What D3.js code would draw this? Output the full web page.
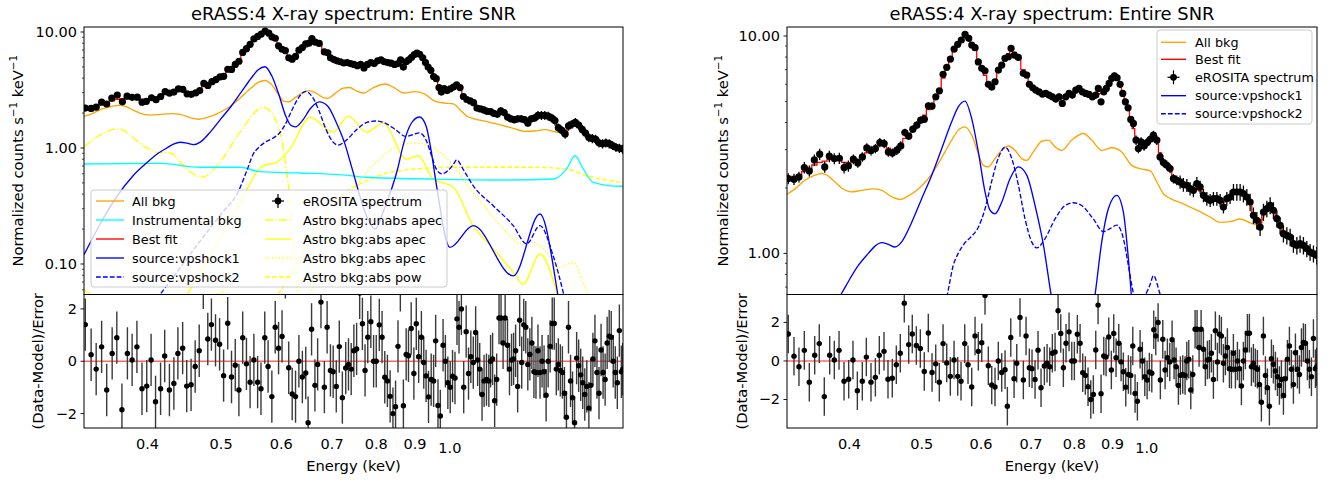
<!DOCTYPE html>
<html>
<head>
<meta charset="utf-8">
<script src="https://cdn.jsdelivr.net/npm/d3@7"></script>
<style>
  html,body{margin:0;padding:0;background:#fff;}
  svg{display:block;}
  text{font-family:"DejaVu Sans",sans-serif;fill:#000;}
</style>
</head>
<body>
<svg id="fig" width="1330" height="482"></svg>
<script>
// ---- eROSITA spectrum (bin centre keV, normalized counts s^-1 keV^-1, 1-sigma error) ----
const specE = [0.3313,0.3372,0.3424,0.3481,0.3535,0.3590,0.3650,0.3707,0.3760,0.3818,
0.3878,0.3935,0.3987,0.4049,0.4105,0.4163,0.4220,0.4276,0.4333,0.4393,
0.4452,0.4510,0.4567,0.4629,0.4686,0.4745,0.4803,0.4863,0.4923,0.4983,
0.5039,0.5102,0.5160,0.5220,0.5278,0.5338,0.5399,0.5460,0.5523,0.5585,
0.5647,0.5713,0.5778,0.5832,0.5892,0.5951,0.6014,0.6075,0.6138,0.6202,
0.6265,0.6330,0.6396,0.6461,0.6527,0.6583,0.6650,0.6731,0.6836,0.6909,
0.6965,0.7038,0.7103,0.7175,0.7250,0.7325,0.7400,0.7477,0.7555,0.7632,
0.7709,0.7791,0.7871,0.7951,0.8036,0.8117,0.8200,0.8287,0.8371,0.8457,
0.8547,0.8614,0.8686,0.8760,0.8829,0.8905,0.8979,0.9052,0.9127,0.9212,
0.9288,0.9363,0.9441,0.9520,0.9597,0.9677,0.9746,0.9827,0.9918,1.0010,
1.0110,1.0208,1.0315,1.0419,1.0526,1.0638,1.0746,1.0856,1.0971,1.1083,
1.1196,1.1315,1.1430,1.1547,1.1670,1.1789,1.1909,1.2035,1.2158,1.2282,
1.2413,1.2539,1.2667,1.2799,1.2929,1.3064,1.3200,1.3335,1.3471,1.3614,
1.3752,1.3892,1.4040,1.4183,1.4328,1.4480,1.4628,1.4777,1.4934,1.5084,
1.5238,1.5400,1.5557,1.5715,1.5883,1.6041,1.6208,1.6377,1.6544,1.6716,
1.6890];
const specRate = [2.209,2.193,2.247,2.483,2.395,2.692,2.859,2.499,2.799,2.732,
2.74,2.483,2.525,2.712,2.607,2.778,3.057,2.974,3.037,3.237,
3.203,2.930,2.899,2.984,3.123,3.599,3.461,3.727,3.889,4.101,
4.145,4.773,4.758,5.253,5.597,6.662,7.174,7.834,8.711,9.158,
9.585,10.18,9.759,9.090,8.834,7.6,7.098,6.920,5.991,5.821,
6.158,6.972,7.352,7.892,8.027,8.776,8.173,7.976,6.733,6.612,
5.991,5.778,5.639,5.538,5.404,5.444,5.347,5.253,5.126,5.253,
4.896,5.253,5.444,5.347,5.639,5.741,5.538,5.444,5.387,5.253,
5.347,5.741,4.980,5.538,5.741,6.053,6.384,6.563,6.425,5.991,
5.444,4.980,4.673,4.132,3.960,3.318,3.037,3.258,3.123,3.237,
3.35,3.498,3.318,2.778,2.618,2.544,2.457,2.209,2.170,2.131,
2.073,2.058,1.987,1.951,2.095,2.021,1.850,1.787,1.755,1.787,
1.787,1.755,1.634,1.787,1.817,1.916,1.916,1.916,1.884,1.817,
1.723,1.497,1.419,1.322,1.550,1.607,1.664,1.579,1.445,1.346,
1.232,1.210,1.189,1.108,1.089,1.108,1.089,1.051,1.014,0.997,
0.979];
const specErr = [0.13,0.13,0.13,0.15,0.14,0.16,0.17,0.15,0.17,0.16,
0.16,0.15,0.15,0.14,0.13,0.14,0.15,0.15,0.15,0.16,
0.16,0.15,0.14,0.15,0.16,0.15,0.14,0.15,0.16,0.16,
0.17,0.19,0.19,0.16,0.17,0.20,0.22,0.24,0.26,0.27,
0.29,0.31,0.29,0.27,0.27,0.23,0.21,0.21,0.18,0.17,
0.18,0.21,0.22,0.24,0.24,0.26,0.25,0.24,0.20,0.20,
0.18,0.17,0.17,0.17,0.16,0.19,0.19,0.18,0.18,0.18,
0.17,0.18,0.19,0.19,0.20,0.20,0.19,0.19,0.19,0.18,
0.19,0.20,0.17,0.19,0.20,0.21,0.22,0.23,0.22,0.21,
0.19,0.17,0.16,0.14,0.20,0.17,0.15,0.16,0.16,0.16,
0.17,0.17,0.17,0.14,0.13,0.13,0.12,0.11,0.11,0.15,
0.15,0.14,0.14,0.14,0.15,0.14,0.13,0.13,0.12,0.13,
0.13,0.12,0.11,0.13,0.13,0.17,0.17,0.17,0.17,0.16,
0.16,0.13,0.13,0.12,0.14,0.14,0.15,0.14,0.13,0.12,
0.11,0.11,0.11,0.10,0.10,0.10,0.10,0.09,0.09,0.09,
0.09];
// best-fit folded model, one value per spectral bin
const fitRate = [2.22,2.26,2.30,2.38,2.45,2.55,2.62,2.66,2.70,2.70,2.68,2.62,2.60,
2.64,2.70,2.80,2.90,2.98,3.05,3.12,3.12,3.05,2.98,3.00,3.12,
3.38,3.50,3.68,3.88,4.10,4.32,4.58,4.85,5.20,5.70,
6.40,7.10,7.85,8.60,9.20,9.65,9.90,9.75,9.20,8.60,
7.70,7.10,6.60,6.10,5.95,6.20,6.85,
7.40,7.90,8.30,8.55,8.40,7.90,7.00,6.50,
6.05,5.80,5.62,5.50,5.42,5.38,5.32,5.25,5.20,5.15,5.15,5.22,
5.32,5.42,5.55,5.62,5.60,5.50,5.40,5.32,5.35,5.40,
5.45,5.55,5.75,6.05,6.35,6.45,6.35,6.00,5.45,4.95,4.55,
4.10,3.75,3.40,3.25,3.20,3.20,3.25,3.32,
3.38,3.25,2.90,2.68,2.55,2.42,2.28,2.18,2.12,2.08,2.04,
2.00,1.98,1.98,1.94,1.88,1.82,1.78,1.77,1.76,1.74,1.72,1.76,1.82,
1.88,1.92,1.91,1.86,1.78,1.68,1.54,1.42,1.38,
1.52,1.62,1.62,1.55,1.44,1.34,1.26,1.21,1.16,1.12,1.10,1.09,1.08,1.05,1.02,1.00,0.98];

// ---- residuals (Data-Model)/Error ----
const resE = [0.3313,0.3372,0.3424,0.3481,0.3535,0.3594,0.3645,0.3702,0.3764,0.3818,
0.3874,0.3934,0.3991,0.4044,0.4099,0.4162,0.4214,0.4275,0.4333,0.4386,
0.4450,0.4505,0.4565,0.4622,0.4679,0.4737,0.4802,0.4855,0.4916,0.4977,
0.5038,0.5101,0.5160,0.5219,0.5277,0.5338,0.5399,0.5459,0.5522,0.5585,
0.5642,0.5707,0.5765,0.5831,0.5891,0.5951,0.6014,0.6075,0.6137,0.6202,
0.6265,0.6329,0.6396,0.6462,0.6508,0.6577,0.6644,0.6699,0.6767,0.6837,
0.6894,0.6964,0.7022,0.7088,0.7153,0.7220,0.7294,0.7355,0.7416,0.7476,
0.7539,0.7609,0.7672,0.7734,0.7798,0.7871,0.7937,0.8001,0.8075,0.8143,
0.8210,0.8276,0.8345,0.8416,0.8483,0.8546,0.8607,0.8687,0.8760,0.8822,
0.8895,0.8967,0.9033,0.9098,0.9174,0.9240,0.9305,0.9374,0.9450,0.9520,
0.9579,0.9647,0.9716,0.9797,0.9866,0.9940,1.0011,1.0082,1.0157,1.0219,
1.0282,1.0356,1.0429,1.0507,1.0582,1.0657,1.0736,1.0813,1.0879,1.0947,
1.1025,1.1093,1.1174,1.1254,1.1314,1.1383,1.1454,1.1525,1.1607,1.1678,
1.1751,1.1824,1.1908,1.1981,1.2056,1.2131,1.2205,1.2281,1.2356,1.2433,
1.2510,1.2587,1.2665,1.2744,1.2822,1.2902,1.2982,1.3061,1.3143,1.3224,
1.3305,1.3388,1.3470,1.3553,1.3638,1.3721,1.3807,1.3892,1.3977,1.4064,
1.4152,1.4238,1.4327,1.4416,1.4504,1.4594,1.4685,1.4775,1.4867,1.4959,
1.5051,1.5144,1.5239,1.5332,1.5427,1.5523,1.5618,1.5715,1.5813,1.5910,
1.6009,1.6108,1.6207,1.6308,1.6407,1.6509,1.6612,1.6715,1.6817,1.6890];
const resVal = [1.4,0.25,-0.3,0.55,-1.1,0.3,0.9,-1.85,0.3,0.05,
0.55,-1.05,-0.95,0.05,-1.55,-1.05,0.2,-1.1,-0.85,0.3,
0.5,-0.95,-0.9,-0.2,0.4,3.0,0.85,1.4,0.8,0.65,
-0.55,1.45,-0.6,-0.15,-1.1,0.9,-0.1,-0.8,0.05,-0.8,
-1.05,0.9,-0.2,-1.35,1.3,0.5,0.95,3.4,-0.25,-1.25,
-1.35,0.0,-0.6,-0.45,-2.35,1.22,-0.92,-0.12,2.26,-0.99,
1.30,-0.35,-0.40,-0.96,0.56,-1.39,-0.26,-0.12,-0.30,0.40,
0.47,2.61,1.43,-0.35,0.92,1.51,0.0,0.0,1.39,0.92,
-0.61,-0.75,-1.34,-2.0,-1.74,0.57,2.90,-1.70,0.26,0.21,
1.25,-0.47,1.43,0.17,0.92,-0.05,-0.56,-1.36,-0.70,-0.75,
0.78,-1.69,-2.09,0.61,0.0,-0.82,-0.99,-0.57,-0.64,1.62,
1.30,2.0,-0.99,1.13,-0.47,0.17,-0.05,1.10,0.05,-0.30,
-1.27,-0.75,-0.70,-0.75,0.0,0.09,-1.51,-0.70,1.65,1.65,
0.70,1.65,0.61,-0.30,0.05,0.09,0.40,-0.96,1.57,-0.05,
1.39,1.30,-0.12,0.26,0.70,-0.40,-0.43,0.40,-0.43,0.0,
-0.40,-1.30,0.0,0.57,1.44,1.44,-0.30,-0.12,-0.35,-0.43,
-1.22,-2.14,1.30,-0.75,-1.39,-2.35,0.12,-0.17,-0.52,-0.82,
-1.27,-0.96,-1.79,-0.92,0.09,0.78,-0.43,-1.22,0.43,-0.43,
-0.70,0.70,0.96,0.92,0.0,-0.43,-0.82,1.17,-0.40,-0.30];
const resErr = 1;

// ---- model components (keV, normalized counts s^-1 keV^-1) ----
const bkgE = [0.33,0.3383,0.3488,0.3597,0.3673,0.3748,0.3826,0.3906,0.4027,0.4154,0.4306,0.4419,0.4557,0.4675,0.4796,0.4946,0.5101,0.5261,0.5370,0.5482,0.5594,0.5711,0.5831,0.5951,0.6043,0.6137,0.6265,0.6396,0.6528,0.6664,0.6803,0.6909,0.7051,0.7238,0.7386,0.7539,0.7697,0.7937,0.8226,0.8441,0.8705,0.8977,0.9259,0.9549,0.9848,1.0104,1.0316,1.0528,1.0747,1.1195,1.1667,1.2157,1.2537,1.2929,1.3335,1.3752,1.4040,1.4704,1.5085,1.5557,1.6043,1.6545,1.6890];
const bkgRate = [1.87,1.98,2.17,2.29,2.33,2.27,2.13,2.00,1.92,1.95,1.98,1.95,1.82,1.77,1.84,1.98,2.21,2.59,2.93,3.32,3.68,3.82,3.50,2.88,2.54,2.50,2.73,2.98,3.12,2.98,2.73,2.68,2.93,3.28,3.32,3.09,2.98,3.32,3.56,3.32,2.98,3.06,2.93,2.54,2.44,2.40,2.13,1.88,1.79,1.69,1.58,1.47,1.39,1.40,1.44,1.38,1.35,1.63,1.35,1.17,1.07,1.00,0.98];
const instE = [0.33,0.4154,0.4689,0.5294,0.5624,0.6349,0.7168,0.777,0.9508,1.164,1.3675,1.4243,1.461,1.498,1.544,1.674,1.69];
const instRate = [0.728,0.738,0.682,0.682,0.625,0.609,0.589,0.56,0.54,0.53,0.54,0.66,0.858,0.66,0.506,0.468,0.468];
const vps1E = [0.33,0.3464,0.3643,0.3832,0.3967,0.4111,0.4240,0.4328,0.4419,0.4510,0.4603,0.4699,0.4847,0.4999,0.5155,0.5317,0.5482,0.5594,0.5711,0.5831,0.5951,0.6075,0.6169,0.6265,0.6396,0.6563,0.6733,0.6909,0.7088,0.7274,0.7425,0.777,0.797,0.82,0.853,0.8705,0.8886,0.9119,0.9305,0.9450,0.9606,1.0,1.0733,1.2118,1.3137,1.39,1.42];
const vps1Rate = [0.12,0.22,0.38,0.58,0.72,0.88,1.0,1.08,1.12,1.10,1.07,1.13,1.39,1.79,2.29,3.04,4.03,4.72,5.02,4.17,2.93,1.92,1.58,1.52,1.72,2.21,2.50,2.29,1.66,1.09,0.688,0.26,0.2,0.3,0.65,1.13,1.61,1.85,1.55,0.945,0.47,0.139,0.214,0.079,0.27,0.05,0.02];
const vps2E = [0.4114,0.44,0.47,0.50,0.5266,0.5416,0.5508,0.5594,0.5711,0.5832,0.5951,0.6075,0.6202,0.6330,0.6462,0.6598,0.6733,0.6873,0.7015,0.7124,0.7310,0.7539,0.7775,0.7976,0.8185,0.8483,0.8749,0.8931,0.9119,0.9305,0.9450,0.9596,0.975,0.995,1.0104,1.0208,1.0419,1.0733,1.1405,1.2118,1.2619,1.3137,1.3675,1.4098,1.44];
const vps2Rate = [0.05,0.09,0.16,0.27,0.42,0.66,0.88,1.0,1.12,1.2,1.32,1.6,2.15,2.75,3.08,2.73,2.06,1.44,1.13,1.06,1.17,1.44,1.66,1.71,1.66,1.44,1.26,1.30,1.35,1.17,0.88,0.66,0.6,0.64,0.72,0.79,0.65,0.473,0.318,0.214,0.149,0.214,0.118,0.057,0.03];
const unabsE = [0.33,0.3661,0.395,0.4114,0.4283,0.4505,0.4715,0.4982,0.5294,0.568,0.5917,0.6067,0.616,0.625,0.635];
const unabsRate = [1.03,1.46,1.05,0.918,0.905,0.659,0.56,0.753,1.37,2.24,1.67,0.80,0.363,0.12,0.03];
const apec1E = [0.33,0.345,0.37,0.43,0.448,0.4689,0.4982,0.5266,0.568,0.5917,0.616,0.6546,0.7023,0.7349,0.777,0.8172,0.8771,0.9088,0.9508,1.0104,1.0733,1.1405,1.2118,1.2489,1.3137,1.3748,1.39,1.42];
const apec1Rate = [0.06,0.048,0.03,0.03,0.05,0.085,0.165,0.318,0.704,0.753,0.98,1.84,1.37,1.88,1.37,1.64,0.80,0.858,0.54,0.458,0.214,0.135,0.085,0.067,0.122,0.065,0.05,0.03];
const apec2E = [0.46,0.488,0.5025,0.518,0.54,0.60,0.65,0.69,0.7388,0.777,0.8172,0.8594,0.8997,0.9508,1.0104,1.052,1.118,1.1877,1.2366,1.2877,1.3408,1.396,1.4534,1.498,1.5285,1.56];
const apec2Rate = [0.03,0.052,0.058,0.052,0.035,0.03,0.05,0.13,0.388,0.617,0.858,1.05,1.10,1.01,0.704,0.49,0.298,0.188,0.149,0.154,0.126,0.094,0.103,0.069,0.05,0.03];
const powE = [0.57,0.60,0.65,0.70,0.7388,0.777,0.8172,0.8594,0.9039,1.0207,1.164,1.2877,1.4243,1.513,1.674,1.69];
const powRate = [0.04,0.06,0.15,0.32,0.443,0.52,0.597,0.637,0.659,0.682,0.682,0.682,0.659,0.577,0.506,0.50];

// ---- axis ticks ----
const xTickMinor = [0.4,0.5,0.6,0.7,0.8,0.9];
const xTickMajor = [1.0];
const resTicks = [-2,0,2];

// ---- layout ----
const svg = d3.select('#fig');
const defs = svg.append('defs');
const TOP_T = 27, TOP_B = 294.5, RES_B = 428;
const xDomain = [0.33, 1.69];
const COL = {bkg:'#ffa500', inst:'#00ffff', fit:'#ff0000', src:'#0000ff', astro:'#ffff00'};
const DASH = {solid:null, dashed:'4.8,2.1', dotted:'1.3,2.2', dashdot:'8.3,2.1,1.3,2.1'};

const comp = {
  unabs:{E:unabsE,V:unabsRate,color:COL.astro,dash:'dashdot',label:'Astro bkg:unabs apec'},
  apec1:{E:apec1E,V:apec1Rate,color:COL.astro,dash:'solid',label:'Astro bkg:abs apec'},
  apec2:{E:apec2E,V:apec2Rate,color:COL.astro,dash:'dotted',label:'Astro bkg:abs apec'},
  pow:{E:powE,V:powRate,color:COL.astro,dash:'dashed',label:'Astro bkg:abs pow'},
  inst:{E:instE,V:instRate,color:COL.inst,dash:'solid',label:'Instrumental bkg'},
  bkg:{E:bkgE,V:bkgRate,color:COL.bkg,dash:'solid',label:'All bkg'},
  vps1:{E:vps1E,V:vps1Rate,color:COL.src,dash:'solid',label:'source:vpshock1'},
  vps2:{E:vps2E,V:vps2Rate,color:COL.src,dash:'dashed',label:'source:vpshock2'},
  fit:{color:COL.fit,dash:'solid',label:'Best fit'},
  data:{label:'eROSITA spectrum'}
};

const panels = [
  {x0:84, x1:623, yDom:[0.0546,11.04], yMajor:[0.1,1,10], resDom:[-2.55,2.55],
   ylabX:18, rlabX:38,
   draw:['unabs','apec1','apec2','pow','inst','bkg','vps1','vps2'],
   legend:{box:[91,190,356,97], cols:[{h0:96,h1:124,tx:132},{h0:265,h1:291,tx:303}],
           rows:[201,220,239,258,277],
           items:[[0,0,'bkg'],[0,1,'inst'],[0,2,'fit'],[0,3,'vps1'],[0,4,'vps2'],
                  [1,0,'data'],[1,1,'unabs'],[1,2,'apec1'],[1,3,'apec2'],[1,4,'pow']]}},
  {x0:787, x1:1317, yDom:[0.647,11.0], yMajor:[1,10], resDom:[-3.48,3.45],
   ylabX:723, rlabX:742,
   draw:['bkg','vps1','vps2'],
   legend:{box:[1157,30,155,94], cols:[{h0:1161,h1:1186,tx:1195}],
           rows:[42.3,59.3,77.3,95.7,113.7],
           items:[[0,0,'bkg'],[0,1,'fit'],[0,2,'data'],[0,3,'vps1'],[0,4,'vps2']]}}
];

function clip(id, x, y, w, h){
  defs.append('clipPath').attr('id', id).append('rect')
    .attr('x', x).attr('y', y).attr('width', w).attr('height', h);
}

function logEdges(E){
  // bin edges halfway (in log) between neighbouring bin centres
  const edges = [];
  for (let i = 0; i <= E.length; i++){
    if (i === 0) edges.push(E[0] * E[0] / Math.sqrt(E[0] * E[1]));
    else if (i === E.length) edges.push(E[i-1] * E[i-1] / Math.sqrt(E[i-2] * E[i-1]));
    else edges.push(Math.sqrt(E[i-1] * E[i]));
  }
  return edges;
}
const specEdges = logEdges(specE);

panels.forEach((p, i) => {
  const x = d3.scaleLog().domain(xDomain).range([p.x0, p.x1]);
  const y = d3.scaleLog().domain(p.yDom).range([TOP_B, TOP_T]);
  const yr = d3.scaleLinear().domain(p.resDom).range([RES_B, TOP_B]);
  clip('ct' + i, p.x0, TOP_T, p.x1 - p.x0, TOP_B - TOP_T);
  clip('cr' + i, p.x0, TOP_B, p.x1 - p.x0, RES_B - TOP_B);

  const gt = svg.append('g').attr('clip-path', `url(#ct${i})`);
  const gr = svg.append('g').attr('clip-path', `url(#cr${i})`);

  // smooth model components
  const smooth = d3.line().x(d => x(d[0])).y(d => y(d[1])).curve(d3.curveMonotoneX);
  p.draw.forEach(k => {
    const c = comp[k];
    gt.append('path').datum(d3.zip(c.E, c.V)).attr('d', smooth)
      .attr('fill', 'none').attr('stroke', c.color).attr('stroke-width', 1.35)
      .attr('stroke-dasharray', DASH[c.dash]);
  });

  // best fit as a histogram over the spectral bins
  const step = d3.line().x(d => x(d[0])).y(d => y(d[1])).curve(d3.curveStep);
  gt.append('path').datum(d3.zip(specE, fitRate)).attr('d', step)
    .attr('fill', 'none').attr('stroke', COL.fit).attr('stroke-width', 1.3);

  // spectrum with error bars
  const gd = gt.append('g');
  specE.forEach((e, j) => {
    const v = specRate[j], er = specErr[j];
    gd.append('line').attr('x1', x(e)).attr('x2', x(e))
      .attr('y1', y(v - er)).attr('y2', y(v + er))
      .attr('stroke', '#000').attr('stroke-width', 1.3);
    gd.append('line').attr('x1', x(specEdges[j])).attr('x2', x(specEdges[j+1]))
      .attr('y1', y(v)).attr('y2', y(v))
      .attr('stroke', '#000').attr('stroke-width', 1.3);
  });
  gd.selectAll('circle').data(specE).join('circle')
    .attr('cx', d => x(d)).attr('cy', (d, j) => y(specRate[j])).attr('r', 3.6).attr('fill', '#000');

  // residuals
  gr.append('line').attr('x1', p.x0).attr('x2', p.x1).attr('y1', yr(0)).attr('y2', yr(0))
    .attr('stroke', '#ff0000').attr('stroke-opacity', 0.6).attr('stroke-width', 1.5);
  resE.forEach((e, j) => {
    gr.append('line').attr('x1', x(e)).attr('x2', x(e))
      .attr('y1', yr(resVal[j] - resErr)).attr('y2', yr(resVal[j] + resErr))
      .attr('stroke', '#3a3a3a').attr('stroke-width', 1.4);
  });
  gr.selectAll('circle').data(resE).join('circle')
    .attr('cx', d => x(d)).attr('cy', (d, j) => yr(resVal[j])).attr('r', 2.7).attr('fill', '#000');

  // frames
  [[TOP_T, TOP_B], [TOP_B, RES_B]].forEach(([a, b]) => {
    svg.append('rect').attr('x', p.x0).attr('y', a).attr('width', p.x1 - p.x0).attr('height', b - a)
      .attr('fill', 'none').attr('stroke', '#000').attr('stroke-width', 1);
  });

  // y ticks, spectrum panel
  const ya = svg.append('g');
  const [lo, hi] = p.yDom;
  for (let k = Math.floor(Math.log10(lo)); k <= Math.ceil(Math.log10(hi)); k++){
    for (let m = 1; m <= 9; m++){
      const v = m * Math.pow(10, k);
      if (v < lo || v > hi) continue;
      const yy = y(v);
      ya.append('line').attr('x1', p.x0).attr('x2', p.x0 - (m === 1 ? 3.5 : 2))
        .attr('y1', yy).attr('y2', yy).attr('stroke', '#000').attr('stroke-width', m === 1 ? 0.9 : 0.7);
    }
  }
  p.yMajor.forEach(v => {
    ya.append('text').attr('x', p.x0 - 7).attr('y', y(v)).attr('text-anchor', 'end')
      .attr('dominant-baseline', 'central').attr('font-size', 14.5).text(d3.format('.2f')(v));
  });

  // y ticks, residual panel
  resTicks.forEach(v => {
    ya.append('line').attr('x1', p.x0).attr('x2', p.x0 - 3.5).attr('y1', yr(v)).attr('y2', yr(v))
      .attr('stroke', '#000').attr('stroke-width', 0.9);
    ya.append('text').attr('x', p.x0 - 7).attr('y', yr(v)).attr('text-anchor', 'end')
      .attr('dominant-baseline', 'central').attr('font-size', 14.5)
      .text(v < 0 ? '\u2212' + Math.abs(v) : String(v));
  });

  // x tick labels
  xTickMinor.forEach(v => {
    ya.append('text').attr('x', x(v)).attr('y', 449).attr('text-anchor', 'middle')
      .attr('font-size', 14.5).text(v.toFixed(1));
  });
  xTickMajor.forEach(v => {
    ya.append('text').attr('x', x(v)).attr('y', 452.5).attr('text-anchor', 'middle')
      .attr('font-size', 14.5).text(v.toFixed(1));
  });

  // axis labels and title
  const cx = (p.x0 + p.x1) / 2;
  svg.append('text').attr('x', cx).attr('y', 471).attr('text-anchor', 'middle')
    .attr('font-size', 14.7).text('Energy (keV)');
  svg.append('text').attr('x', cx).attr('y', 19.5).attr('text-anchor', 'middle')
    .attr('font-size', 17.9).text('eRASS:4 X-ray spectrum: Entire SNR');
  const yl = svg.append('text').attr('text-anchor', 'middle').attr('font-size', 14.7)
    .attr('transform', `translate(${p.ylabX + 5},${(TOP_T + TOP_B) / 2}) rotate(-90)`);
  yl.append('tspan').text('Normalized counts s');
  yl.append('tspan').attr('font-size', 10.3).attr('dy', -6).text('\u22121');
  yl.append('tspan').attr('dy', 6).text(' keV');
  yl.append('tspan').attr('font-size', 10.3).attr('dy', -6).text('\u22121');
  svg.append('text').attr('text-anchor', 'middle').attr('font-size', 14.7)
    .attr('transform', `translate(${p.rlabX + 5},${(TOP_B + RES_B) / 2}) rotate(-90)`)
    .text('(Data-Model)/Error');

  // legend
  const L = p.legend;
  const gl = svg.append('g');
  gl.append('rect').attr('x', L.box[0]).attr('y', L.box[1]).attr('width', L.box[2]).attr('height', L.box[3])
    .attr('rx', 3).attr('fill', '#fff').attr('fill-opacity', 0.8).attr('stroke', '#cccccc').attr('stroke-width', 1);
  L.items.forEach(([ci, ri, key]) => {
    const col = L.cols[ci], ry = L.rows[ri], c = comp[key];
    if (key === 'data'){
      const mx = (col.h0 + col.h1) / 2;
      gl.append('line').attr('x1', mx - 6).attr('x2', mx + 6).attr('y1', ry).attr('y2', ry).attr('stroke', '#000').attr('stroke-width', 1.2);
      gl.append('line').attr('x1', mx).attr('x2', mx).attr('y1', ry - 7).attr('y2', ry + 7).attr('stroke', '#000').attr('stroke-width', 1.2);
      gl.append('circle').attr('cx', mx).attr('cy', ry).attr('r', 3.4).attr('fill', '#000');
    } else {
      gl.append('line').attr('x1', col.h0).attr('x2', col.h1).attr('y1', ry).attr('y2', ry)
        .attr('stroke', c.color).attr('stroke-width', 1.35).attr('stroke-dasharray', DASH[c.dash]);
    }
    gl.append('text').attr('x', col.tx).attr('y', ry).attr('dominant-baseline', 'central')
      .attr('font-size', 12.8).text(c.label);
  });
});
</script>
</body>
</html>
